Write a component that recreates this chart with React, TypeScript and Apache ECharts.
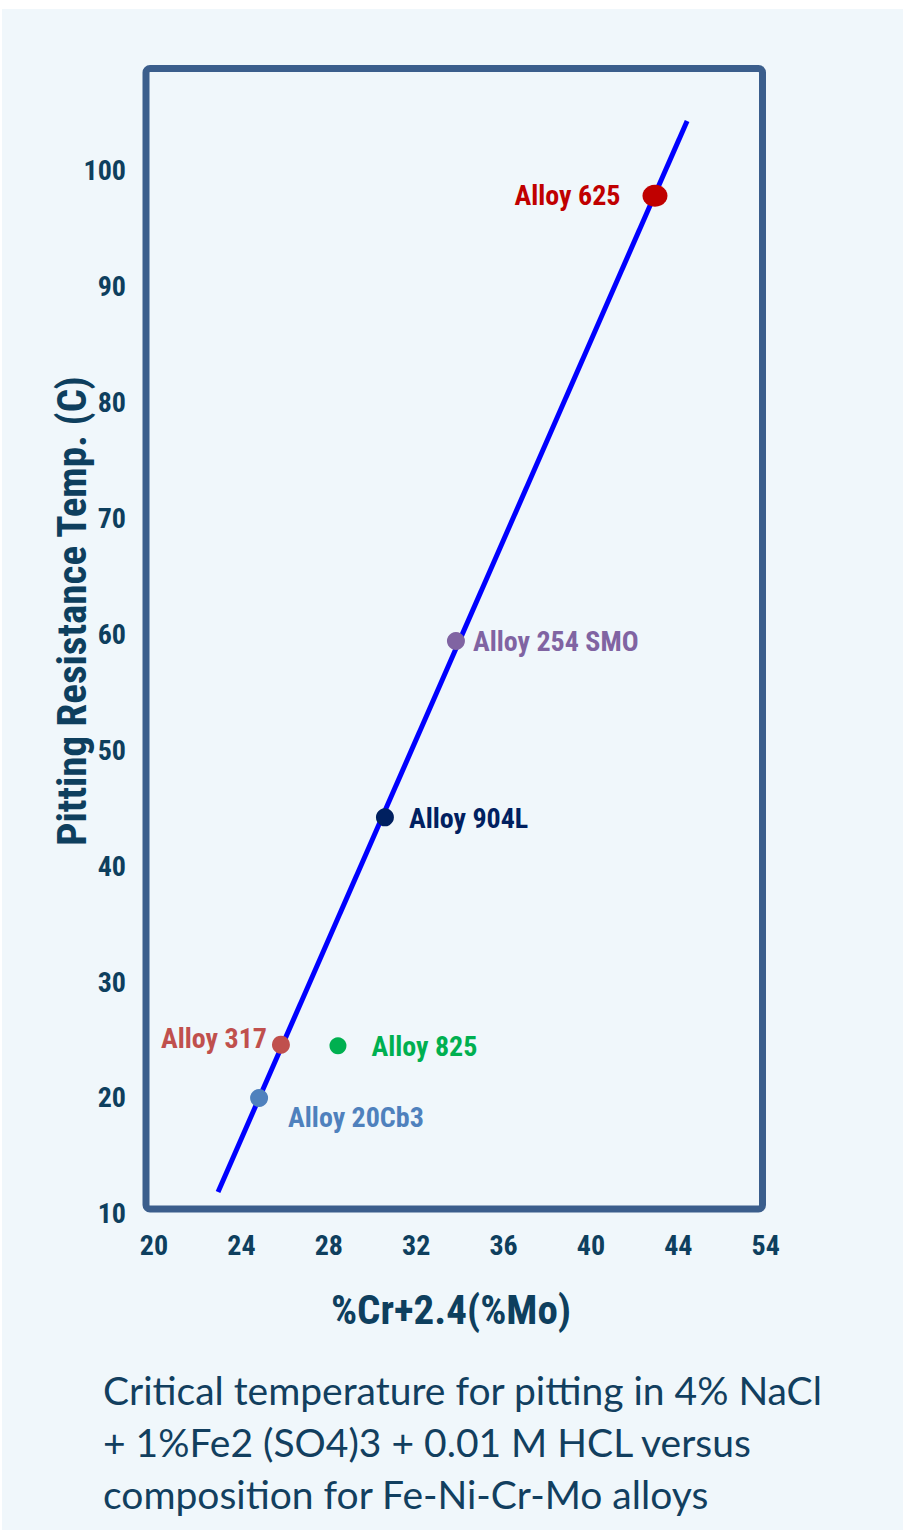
import React, { useEffect, useRef } from "react";
import * as echarts from "echarts";

// ---- data ----
const alloyNames = ["Alloy 625", "Alloy 254 SMO", "Alloy 904L", "Alloy 317", "Alloy 825", "Alloy 20Cb3"];
const crMoValues = [42.93, 33.82, 30.57, 25.81, 28.42, 24.81];
const pittingTemps = [97.8, 59.4, 44.2, 24.6, 24.5, 20.0];
const trendX = [22.93, 44.4];
const trendY = [11.9, 104.25];
const xTickValues = [20, 24, 28, 32, 36, 40, 44, 48];
const xTickLabels = ["20", "24", "28", "32", "36", "40", "44", "54"];
const yTickValues = [10, 20, 30, 40, 50, 60, 70, 80, 90, 100];
const yTickLabels = ["10", "20", "30", "40", "50", "60", "70", "80", "90", "100"];
const xTitle = "%Cr+2.4(%Mo)";
const yTitle = "Pitting Resistance Temp. (C)";
const captionLines = [
  "Critical temperature for pitting in 4% NaCl",
  "+ 1%Fe2 (SO4)3 + 0.01 M HCL versus",
  "composition for Fe-Ni-Cr-Mo alloys",
];

// ---- styles ----
const pointColors = ["#c00000", "#8064a2", "#002060", "#c0504d", "#00b050", "#4f81bd"];
const pointSizes: any[] = [[25, 22], 18, 18, 18, 17, 18];
const labelPlacement: any[] = [
  { position: "left", distance: 22, offset: [0, 0] },
  { position: "right", distance: 8, offset: [0, 0] },
  { position: "right", distance: 15, offset: [0, 1] },
  { position: "left", distance: 5, offset: [0, -6] },
  { position: "right", distance: 25, offset: [0, 1] },
  { position: "right", distance: 20, offset: [0, 20] },
];
const NARROW = "'Liberation Sans Narrow', 'Arial Narrow', 'Roboto Condensed', sans-serif";
const AXIS_COLOR = "#0e3f5e";

export default function App() {
  const ref = useRef<HTMLDivElement>(null);
  useEffect(() => {
    if (!ref.current) return;
    const chart = echarts.init(ref.current, undefined, { renderer: "svg" });
    const scatterData = alloyNames.map((n, i) => ({
      name: n,
      value: [crMoValues[i], pittingTemps[i]],
      symbolSize: pointSizes[i],
      itemStyle: { color: pointColors[i], opacity: 1 },
      label: {
        show: true,
        formatter: "{b}",
        position: labelPlacement[i].position,
        distance: labelPlacement[i].distance,
        offset: labelPlacement[i].offset,
        color: pointColors[i],
        fontFamily: NARROW,
        fontWeight: "bold",
        fontSize: 28,
      },
    }));
    chart.setOption({
      animation: false,
      backgroundColor: "transparent",
      grid: { left: 140, right: 903 - 775, top: 68.5, bottom: 1533 - 1216, show: false },
      xAxis: {
        type: "value",
        min: 19.359,
        max: 48.424,
        axisLine: { show: false },
        axisTick: { show: false },
        splitLine: { show: false },
        axisLabel: {
          customValues: xTickValues,
          formatter: (v: number) => xTickLabels[xTickValues.indexOf(Math.round(v))] ?? "",
          margin: 15,
          color: AXIS_COLOR,
          fontFamily: NARROW,
          fontWeight: "bold",
          fontSize: 28,
        },
      },
      yAxis: {
        type: "value",
        min: 9.824,
        max: 108.773,
        axisLine: { show: false },
        axisTick: { show: false },
        splitLine: { show: false },
        axisLabel: {
          customValues: yTickValues,
          formatter: (v: number) => yTickLabels[yTickValues.indexOf(Math.round(v))] ?? "",
          margin: 14,
          color: AXIS_COLOR,
          fontFamily: NARROW,
          fontWeight: "bold",
          fontSize: 28,
        },
      },
      graphic: [
        {
          type: "rect",
          shape: { x: 146, y: 68.5, width: 616.5, height: 1140.5, r: 4 },
          style: { fill: "none", stroke: "#3b5e8c", lineWidth: 7 },
          z: 1,
        },
        {
          type: "text",
          x: 72,
          y: 611,
          rotation: Math.PI / 2,
          style: {
            text: yTitle,
            fill: AXIS_COLOR,
            font: `bold 41px ${NARROW}`,
            align: "center",
            verticalAlign: "middle",
          },
        },
        {
          type: "text",
          x: 451,
          y: 1310,
          style: {
            text: xTitle,
            fill: AXIS_COLOR,
            font: `bold 41px ${NARROW}`,
            align: "center",
            verticalAlign: "middle",
          },
        },
        ...captionLines.map((t, i) => ({
          type: "text",
          x: 103,
          y: 1390 + i * 52,
          style: {
            text: t,
            fill: "#123f5f",
            font: "39px Lato, 'Open Sans', sans-serif",
            align: "left",
            verticalAlign: "middle",
          },
        })),
      ],
      series: [
        {
          type: "line",
          data: trendX.map((x, i) => [x, trendY[i]]),
          symbol: "none",
          lineStyle: { color: "#0000ff", width: 5, cap: "butt" },
          z: 2,
        },
        {
          type: "scatter",
          data: scatterData,
          z: 3,
        },
      ],
    });
    return () => chart.dispose();
  }, []);
  return (
    <div style={{ position: "absolute", left: 0, top: 0, width: 903, height: 1533, background: "#ffffff" }}>
      <div style={{ position: "absolute", left: 2, top: 9, width: 901, height: 1521, background: "#f0f7fb" }} />
      <div ref={ref} style={{ position: "absolute", left: 0, top: 0, width: 903, height: 1533 }} />
    </div>
  );
}
